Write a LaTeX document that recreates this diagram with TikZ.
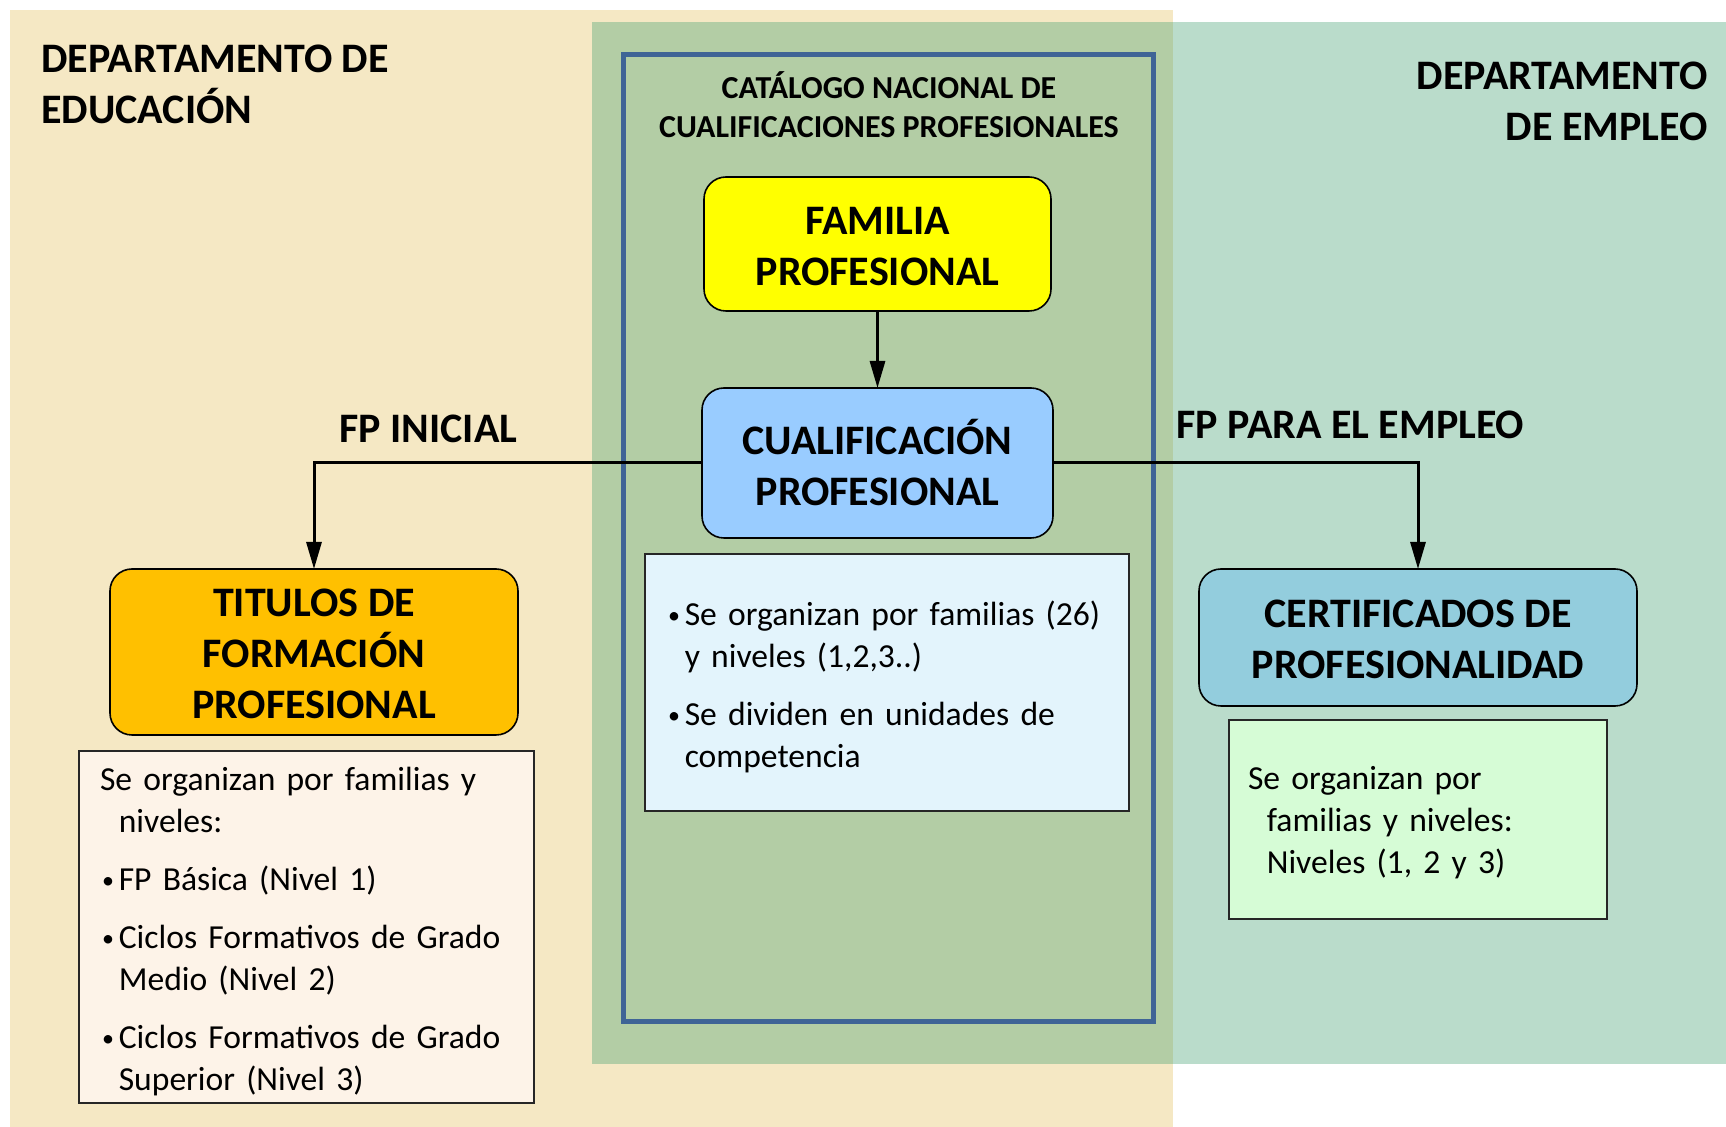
\documentclass[tikz,border=0pt]{standalone}
\usepackage{fontspec}
\setmainfont{Carlito}
\usetikzlibrary{arrows.meta}
\definecolor{beigebg}{HTML}{F5E8C4}
\definecolor{tealbg}{HTML}{BADCCB}
\definecolor{midgreen}{HTML}{B3CDA5}
\definecolor{framecol}{HTML}{3F6496}
\definecolor{famfill}{HTML}{FFFF00}
\definecolor{cualfill}{HTML}{99CCFF}
\definecolor{cualinfo}{HTML}{E3F4FC}
\definecolor{titfill}{HTML}{FFC000}
\definecolor{titinfo}{HTML}{FDF3E8}
\definecolor{certfill}{HTML}{93CDDD}
\definecolor{certinfo}{HTML}{D6FCD6}
\newcommand\mybul{\makebox[9.4pt][l]{\hspace{1.1pt}\raisebox{1pt}{\fontsize{12}{12}\selectfont •}}}
\newcommand\myind{\hspace*{9.4pt}}
\newcommand\toppad[2]{\rule{0pt}{\dimexpr\fontcharht\font`#1+#2\relax}}
\begin{document}
\begin{tikzpicture}[x=0.5pt,y=-0.5pt,
  titlebox/.style={draw=black, line width=0.8pt, rounded corners=11pt, align=center,
    font=\fontsize{21}{25.5}\selectfont\bfseries, inner sep=0pt, outer sep=0pt},
  infobox/.style={draw=black!85, line width=0.8pt, align=left,
    font=\fontsize{16.8}{21}\selectfont, inner xsep=10.5pt, inner ysep=0pt, outer sep=0pt},
  lbl/.style={font=\fontsize{21}{25.5}\selectfont\bfseries, inner sep=0pt},
  conn/.style={line width=1.5pt, -{Triangle[length=13.5pt,width=7.5pt]}}
]
\useasboundingbox (0,0) rectangle (1726,1127);
% backgrounds
\fill[beigebg] (10,10) rectangle (1173,1127);
\fill[tealbg] (1173,22) rectangle (1726,1064);
\fill[midgreen] (592,22) rectangle (1173,1064);
\draw[framecol, line width=2.5pt] (623.5,55) rectangle (1153,1022);

% department titles
\node[lbl, anchor=west, align=left] (dedu) at (41,84.5) {DEPARTAMENTO DE\\EDUCACIÓN};
\node[lbl, anchor=east, align=right] (demp) at (1708,101.5) {DEPARTAMENTO\\DE EMPLEO};
\node[font=\fontsize{16}{19.5}\selectfont\bfseries, inner sep=0pt, align=center] (cat) at (889,104.5)
  {CATÁLOGO NACIONAL DE\\CUALIFICACIONES PROFESIONALES};

% boxes
\node[titlebox, fill=famfill, minimum width=173.5pt, minimum height=67pt] (fam) at (877.5,244) {\toppad{F}{2.2pt}FAMILIA\\PROFESIONAL};
\node[titlebox, fill=cualfill, minimum width=175.5pt, minimum height=75pt] (cual) at (877.5,463) {CUALIFICACIÓN\\PROFESIONAL};
\node[infobox, fill=cualinfo, text width=221pt, minimum height=128.5pt] (cinfo) at (887,682.5)
  {\toppad{(}{4.4pt}\mybul Se organizan por familias (26)\\
   \myind y niveles (1,2,3..)\\[8pt]
   \mybul Se dividen en unidades de\\
   \myind competencia};

\node[titlebox, fill=titfill, minimum width=204pt, minimum height=83pt] (tit) at (314,652) {\toppad{T}{2.2pt}TITULOS DE\\FORMACIÓN\\PROFESIONAL};
\node[infobox, fill=titinfo, text width=206.5pt, minimum height=176pt] (tinfo) at (306.5,927)
  {\toppad{l}{4.4pt}Se organizan por familias y\\
   \myind niveles:\\[8pt]
   \mybul FP Básica (Nivel 1)\\[8pt]
   \mybul Ciclos Formativos de Grado\\
   \myind Medio (Nivel 2)\\[8pt]
   \mybul Ciclos Formativos de Grado\\
   \myind Superior (Nivel 3)};

\node[titlebox, fill=certfill, minimum width=219pt, minimum height=68.5pt] (cert) at (1418,637.5) {\toppad{C}{2.2pt}CERTIFICADOS DE\\PROFESIONALIDAD};
\node[infobox, fill=certinfo, inner xsep=9.5pt, text width=170pt, minimum height=99.5pt] (ceinfo) at (1418,819.5)
  {\toppad{S}{4.4pt}Se organizan por\\
   \myind familias y niveles:\\
   \myind Niveles (1, 2 y 3)};

% labels
\node[lbl, anchor=west] (fpi) at (339,429) {FP INICIAL};
\node[lbl, anchor=west] (fpe) at (1176,425) {FP PARA EL EMPLEO};

% connectors
\draw[conn] (fam.south) -- (cual.north);
\draw[conn] (cual.west) -| (tit.north);
\draw[conn] (cual.east) -| (cert.north);
\end{tikzpicture}
\end{document}
